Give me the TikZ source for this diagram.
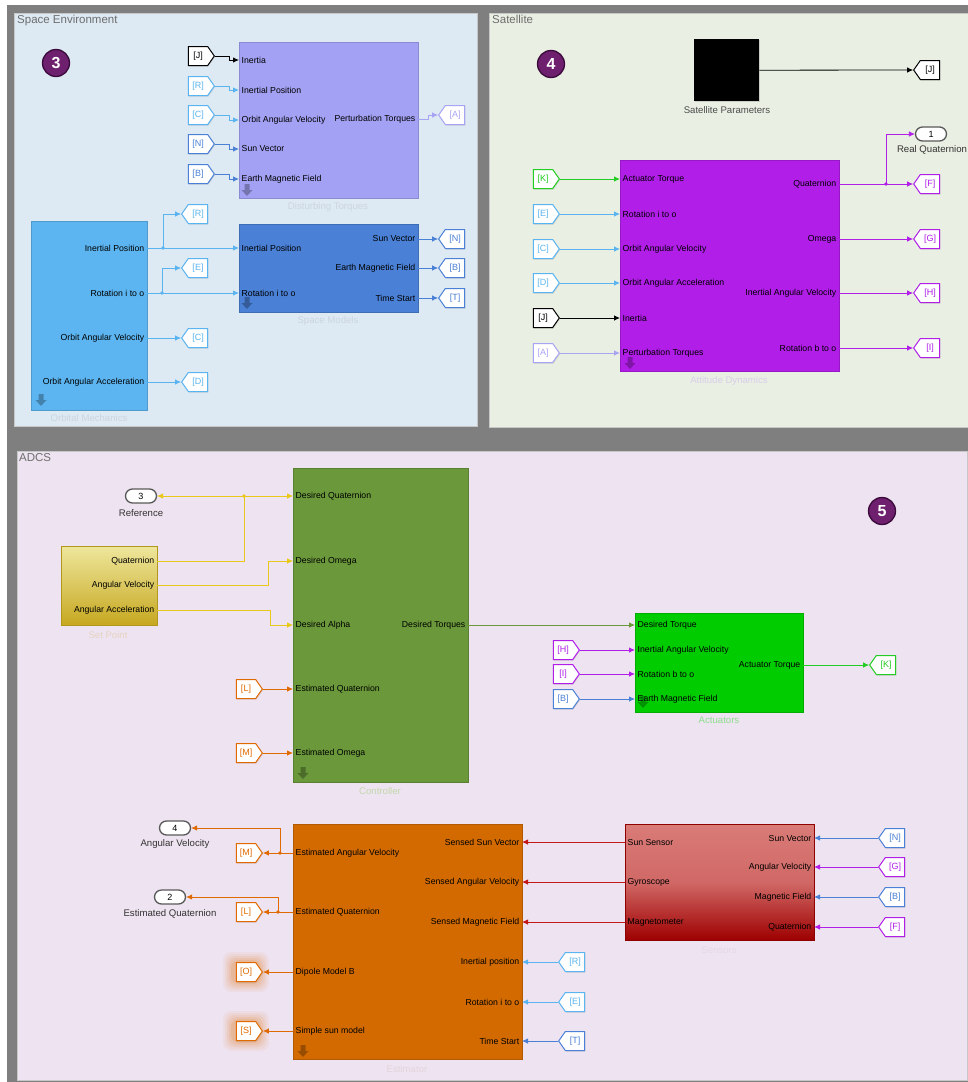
\documentclass[tikz,border=0pt]{standalone}
\usepackage{fontspec}
\setmainfont{Liberation Sans}
\usepackage{tikz}
\usetikzlibrary{positioning,calc}
\usetikzlibrary{arrows.meta,shapes,shadows}

\definecolor{frame}{HTML}{7F7F7F}
\definecolor{seBg}{HTML}{DDE9F3}
\definecolor{satBg}{HTML}{E9EFE2}
\definecolor{adcsBg}{HTML}{EEE3F0}
\definecolor{titleGray}{HTML}{6E6E6E}
\definecolor{badgeFill}{HTML}{6E1F6E}
\definecolor{badgeRim}{HTML}{3A0A3A}
% block fills
\definecolor{distFill}{HTML}{A3A1F3}
\definecolor{spmFill}{HTML}{4A80D5}
\definecolor{orbFill}{HTML}{5CB5F1}
\definecolor{attFill}{HTML}{B01EE8}
\definecolor{ctlFill}{HTML}{6A983A}
\definecolor{actFill}{HTML}{00CC00}
\definecolor{estFill}{HTML}{D26A00}
\definecolor{spTop}{HTML}{EEE69C}
\definecolor{spBot}{HTML}{C6A820}
\definecolor{senTop}{HTML}{D97B78}
\definecolor{senBot}{HTML}{9E0000}
% signal colours
\definecolor{sigLB}{HTML}{5AB4F0}
\definecolor{sigB}{HTML}{4A80D5}
\definecolor{sigLav}{HTML}{A8A4F4}
\definecolor{sigG}{HTML}{22CC22}
\definecolor{sigP}{HTML}{B01EE8}
\definecolor{sigY}{HTML}{E8C818}
\definecolor{sigOr}{HTML}{E06A00}
\definecolor{sigR}{HTML}{C41818}
\definecolor{sigOl}{HTML}{6A983A}
% faint block names
\definecolor{nameSE}{HTML}{CBD5E0}
\definecolor{nameAtt}{HTML}{D9CDEB}
\definecolor{nameSP}{HTML}{E6D3C0}
\definecolor{nameCtl}{HTML}{C2D8AC}
\definecolor{nameAct}{HTML}{8EDC8E}
\definecolor{nameEst}{HTML}{E2D4DC}
\definecolor{nameSen}{HTML}{E4D8E4}

\newcommand{\portfont}{\fontsize{8.7}{9}\selectfont}
\newcommand{\tagfont}{\fontsize{9}{10}\selectfont}
\newcommand{\namefont}{\fontsize{9.6}{11}\selectfont}
\newcommand{\titlefont}{\fontsize{11.5}{13}\selectfont}

\tikzstyle{panel} = [draw=black!22,line width=0.6pt]
\tikzstyle{ptitle} = [anchor=west,inner sep=0pt,text=titleGray,font=\titlefont]
\tikzstyle{subsys} = [rectangle,anchor=north west,inner sep=0pt,drop shadow={shadow xshift=1pt,shadow yshift=-1.2pt,opacity=0.3}]
\tikzstyle{inport} = [anchor=west,inner sep=2.5pt,font=\portfont]
\tikzstyle{outport} = [anchor=east,inner sep=2.5pt,font=\portfont]
\tikzstyle{blkname} = [font=\namefont,inner sep=0pt]
\tikzstyle{line} = [-{Latex[length=6pt,width=5.5pt]},line width=0.8pt]
\tikzstyle{dot} = [circle,inner sep=0pt,minimum size=3.8pt]
\tikzstyle{outblk} = [rounded rectangle,draw=black!65,line width=1.3pt,fill=white,minimum width=31pt,minimum height=14pt,inner sep=0pt,font=\tagfont]
\tikzstyle{badge} = [circle,fill=badgeFill,draw=badgeRim,line width=1.3pt,text=white,minimum size=27pt,inner sep=0pt,font=\fontsize{16}{16}\selectfont\bfseries]
\tikzset{
  sigtag/.style={signal,signal pointer angle=110,fill=white,line width=1pt,
    minimum width=26pt,minimum height=19pt,inner sep=1pt,font=\tagfont,
    draw=#1,text=#1,drop shadow={shadow xshift=0.8pt,shadow yshift=-1pt,opacity=0.25}},
  fromtag/.style={sigtag=#1,signal to=east},
  gototag/.style={sigtag=#1,signal to=west},
  lookunder/.pic={\fill[black,opacity=0.28] (-2.5,-6) -- (2.5,-6) -- (2.5,0) -- (5.5,0) -- (0,6) -- (-5.5,0) -- (-2.5,0) -- cycle;}
}

\begin{document}
\begin{tikzpicture}[x=1pt,y=-1pt]
\useasboundingbox (0,0) rectangle (968,1082);
% background and the three areas
\fill[frame] (7,5) rectangle (968,1082);
\filldraw[panel,fill=seBg] (14,13) rectangle (477,426);
\filldraw[panel,fill=satBg] (489,13) rectangle (990,427);
\filldraw[panel,fill=adcsBg] (17,451) rectangle (967,1080);
\node[ptitle] at (17,21) {Space Environment};
\node[ptitle] at (492,19) {Satellite};
\node[ptitle] at (19,458) {ADCS};
\node[badge] (b3) at (56,63) {3};
\node[badge] (b4) at (551,64) {4};
\node[badge] (b5) at (882,511) {5};

%% space environment
\node[subsys,fill=distFill,draw=distFill!85!black,minimum width=179pt,minimum height=156pt] (dist) at (239,42) {};
\node[blkname,text=nameSE] at (328,207) {Disturbing Torques};
\pic at (247,190) {lookunder};
\node[inport] (dist-J) at (239,60) {Inertia};
\node[inport] (dist-R) at (239,90) {Inertial Position};
\node[inport] (dist-C) at (239,120) {Orbit Angular Velocity};
\node[inport] (dist-N) at (239,149) {Sun Vector};
\node[inport] (dist-B) at (239,179) {Earth Magnetic Field};
\node[outport] (dist-A) at (418,119) {Perturbation Torques};

\node[fromtag=black] (se-J) at (198,56) {[J]};
\node[fromtag=sigLB] (se-R) at (198,86) {[R]};
\node[fromtag=sigLB] (se-C) at (198,115) {[C]};
\node[fromtag=sigB] (se-N) at (198,144) {[N]};
\node[fromtag=sigB] (se-B) at (198,174) {[B]};
\node[gototag=sigLav] (se-A) at (455,115) {[A]};
\draw[line] (se-J.east) -- ++(14,0) |- (dist-J.west);
\draw[line,sigLB] (se-R.east) -- ++(14,0) |- (dist-R.west);
\draw[line,sigLB] (se-C.east) -- ++(14,0) |- (dist-C.west);
\draw[line,sigB] (se-N.east) -- ++(14,0) |- (dist-N.west);
\draw[line,sigB] (se-B.east) -- ++(14,0) |- (dist-B.west);
\draw[line,sigLav] (dist-A.east) -- ++(10,0) |- (se-A.west);

\node[subsys,fill=orbFill,draw=orbFill!85!black,minimum width=116pt,minimum height=189pt] (orb) at (31,221) {};
\node[blkname,text=nameSE] at (89,418) {Orbital Mechanics};
\pic at (41,400) {lookunder};
\node[outport] (orb-pos) at (147,248) {Inertial Position};
\node[outport] (orb-rot) at (147,293) {Rotation i to o};
\node[outport] (orb-vel) at (147,338) {Orbit Angular Velocity};
\node[outport] (orb-acc) at (147,382) {Orbit Angular Acceleration};

\node[subsys,fill=spmFill,draw=spmFill!85!black,minimum width=179pt,minimum height=88pt] (spm) at (239,224) {};
\node[blkname,text=nameSE] at (328,321) {Space Models};
\pic at (247,303) {lookunder};
\node[inport] (spm-pos) at (239,248) {Inertial Position};
\node[inport] (spm-rot) at (239,293) {Rotation i to o};
\node[outport] (spm-sun) at (418,239) {Sun Vector};
\node[outport] (spm-mag) at (418,268) {Earth Magnetic Field};
\node[outport] (spm-time) at (418,298) {Time Start};

\node[gototag=sigLB] (se-R2) at (198,214) {[R]};
\node[gototag=sigLB] (se-E) at (198,268) {[E]};
\node[gototag=sigLB] (se-C2) at (198,338) {[C]};
\node[gototag=sigLB] (se-D) at (198,382) {[D]};
\node[gototag=sigB] (se-N2) at (455,239) {[N]};
\node[gototag=sigB] (se-B2) at (455,268) {[B]};
\node[gototag=sigB] (se-T) at (455,298) {[T]};
\coordinate (j-pos) at (163,248);
\coordinate (j-rot) at (162,293);
\draw[line,sigLB] (orb-pos.east) -- (spm-pos.west);
\draw[line,sigLB] (j-pos) |- (se-R2.west);
\draw[line,sigLB] (orb-rot.east) -- (spm-rot.west);
\draw[line,sigLB] (j-rot) |- (se-E.west);
\node[dot,fill=sigLB] at (j-pos) {};
\node[dot,fill=sigLB] at (j-rot) {};
\draw[line,sigLB] (orb-vel.east) -- (se-C2.west);
\draw[line,sigLB] (orb-acc.east) -- (se-D.west);
\draw[line,sigB] (spm-sun.east) -- (se-N2.west);
\draw[line,sigB] (spm-mag.east) -- (se-B2.west);
\draw[line,sigB] (spm-time.east) -- (se-T.west);

%% satellite
\node[subsys,fill=black,minimum width=65pt,minimum height=62pt] (satpar) at (694,39) {};
\pic at (703,92) {lookunder};
\node[blkname,text=black!70] at (727,110) {Satellite Parameters};
\node[gototag=black] (sat-J) at (930,70) {[J]};
\draw[line] (satpar.east) -- (sat-J.west);

\node[subsys,fill=attFill,draw=attFill!85!black,minimum width=219pt,minimum height=211pt] (att) at (620,160) {};
\node[blkname,text=nameAtt] at (729,381) {Attitude Dynamics};
\pic at (630,363) {lookunder};
\node[inport] (att-K) at (620,179) {Actuator Torque};
\node[inport] (att-E) at (620,214) {Rotation i to o};
\node[inport] (att-C) at (620,249) {Orbit Angular Velocity};
\node[inport] (att-D) at (620,283) {Orbit Angular Acceleration};
\node[inport] (att-J) at (620,318) {Inertia};
\node[inport] (att-A) at (620,353) {Perturbation Torques};
\node[outport] (att-q) at (839,184) {Quaternion};
\node[outport] (att-w) at (839,239) {Omega};
\node[outport] (att-iw) at (839,293) {Inertial Angular Velocity};
\node[outport] (att-rb) at (839,348) {Rotation b to o};

\node[fromtag=sigG] (sat-K) at (543,179) {[K]};
\node[fromtag=sigLB] (sat-E) at (543,214) {[E]};
\node[fromtag=sigLB] (sat-C) at (543,249) {[C]};
\node[fromtag=sigLB] (sat-D) at (543,283) {[D]};
\node[fromtag=black] (sat-J2) at (543,318) {[J]};
\node[fromtag=sigLav] (sat-A) at (543,353) {[A]};
\draw[line,sigG] (sat-K.east) -- (att-K.west);
\draw[line,sigLB] (sat-E.east) -- (att-E.west);
\draw[line,sigLB] (sat-C.east) -- (att-C.west);
\draw[line,sigLB] (sat-D.east) -- (att-D.west);
\draw[line] (sat-J2.east) -- (att-J.west);
\draw[line,sigLav] (sat-A.east) -- (att-A.west);

\node[gototag=sigP] (sat-F) at (930,184) {[F]};
\node[gototag=sigP] (sat-G) at (930,239) {[G]};
\node[gototag=sigP] (sat-H) at (930,293) {[H]};
\node[gototag=sigP] (sat-I) at (930,348) {[I]};
\node[outblk] (out1) at (931,134) {1};
\node[blkname,text=black!80] at (932,150) {Real Quaternion};
\coordinate (j-q) at (886,184);
\draw[line,sigP] (att-q.east) -- (sat-F.west);
\draw[line,sigP] (j-q) |- (out1.west);
\node[dot,fill=sigP] at (j-q) {};
\draw[line,sigP] (att-w.east) -- (sat-G.west);
\draw[line,sigP] (att-iw.east) -- (sat-H.west);
\draw[line,sigP] (att-rb.east) -- (sat-I.west);

%% ADCS
\node[outblk] (out3) at (141,496) {3};
\node[blkname,text=black!80] at (141,513) {Reference};

\node[subsys,top color=spTop,bottom color=spBot,draw=spBot!90!black,minimum width=96pt,minimum height=79pt] (setpt) at (61,546) {};
\node[blkname,text=nameSP] at (108,635) {Set Point};
\node[outport] (sp-q) at (157,561) {Quaternion};
\node[outport] (sp-w) at (157,585) {Angular Velocity};
\node[outport] (sp-a) at (157,610) {Angular Acceleration};

\node[subsys,fill=ctlFill,draw=ctlFill!85!black,minimum width=175pt,minimum height=314pt] (ctl) at (293,468) {};
\node[blkname,text=nameCtl] at (380,791) {Controller};
\pic at (303,773) {lookunder};
\node[inport] (ctl-q) at (293,496) {Desired Quaternion};
\node[inport] (ctl-w) at (293,561) {Desired Omega};
\node[inport] (ctl-a) at (293,625) {Desired Alpha};
\node[inport] (ctl-L) at (293,689) {Estimated Quaternion};
\node[inport] (ctl-M) at (293,753) {Estimated Omega};
\node[outport] (ctl-tau) at (468,625) {Desired Torques};

\coordinate (j-ref) at (244,496);
\draw[line,sigY] (sp-q.east) -| (j-ref) -- (ctl-q.west);
\draw[line,sigY] (j-ref) -- (out3.east);
\node[dot,fill=sigY] at (j-ref) {};
\draw[line,sigY] (sp-w.east) -- ++(111,0) |- (ctl-w.west);
\draw[line,sigY] (sp-a.east) -- ++(113,0) |- (ctl-a.west);
\node[fromtag=sigOr] (ad-L) at (246,689) {[L]};
\node[fromtag=sigOr] (ad-M) at (246,753) {[M]};
\draw[line,sigOr] (ad-L.east) -- (ctl-L.west);
\draw[line,sigOr] (ad-M.east) -- (ctl-M.west);

\node[subsys,fill=actFill,draw=actFill!85!black,minimum width=168pt,minimum height=99pt] (act) at (635,613) {};
\node[blkname,text=nameAct] at (719,720) {Actuators};
\pic at (643,702) {lookunder};
\node[inport] (act-tau) at (635,625) {Desired Torque};
\node[inport] (act-H) at (635,650) {Inertial Angular Velocity};
\node[inport] (act-I) at (635,674) {Rotation b to o};
\node[inport] (act-B) at (635,699) {Earth Magnetic Field};
\node[outport] (act-K) at (803,665) {Actuator Torque};
\node[fromtag=sigP] (ad-H) at (563,650) {[H]};
\node[fromtag=sigP] (ad-I) at (563,674) {[I]};
\node[fromtag=sigB] (ad-B) at (563,699) {[B]};
\node[gototag=sigG] (ad-K) at (886,665) {[K]};
\draw[line,sigOl] (ctl-tau.east) -- (act-tau.west);
\draw[line,sigP] (ad-H.east) -- (act-H.west);
\draw[line,sigP] (ad-I.east) -- (act-I.west);
\draw[line,sigB] (ad-B.east) -- (act-B.west);
\draw[line,sigG] (act-K.east) -- (ad-K.west);

\node[subsys,fill=estFill,draw=estFill!85!black,minimum width=229pt,minimum height=235pt] (est) at (293,824) {};
\node[blkname,text=nameEst] at (407,1069) {Estimator};
\pic at (303,1051) {lookunder};
\node[inport] (est-w) at (293,853) {Estimated Angular Velocity};
\node[inport] (est-q) at (293,912) {Estimated Quaternion};
\node[inport] (est-O) at (293,972) {Dipole Model B};
\node[inport] (est-S) at (293,1031) {Simple sun model};
\node[outport] (est-sun) at (522,842) {Sensed Sun Vector};
\node[outport] (est-gyr) at (522,882) {Sensed Angular Velocity};
\node[outport] (est-mag) at (522,922) {Sensed Magnetic Field};
\node[outport] (est-R) at (522,962) {Inertial position};
\node[outport] (est-E) at (522,1002) {Rotation i to o};
\node[outport] (est-T) at (522,1041) {Time Start};

% glow round the two unused tags
\foreach \r/\o in {10/0.05,8/0.06,6/0.08,4/0.1,2/0.12}{
  \fill[sigOr,opacity=\o,rounded corners=8pt] ($(246,972)+(-13-\r,-10-\r)$) rectangle ($(246,972)+(13+\r,10+\r)$);
  \fill[sigOr,opacity=\o,rounded corners=8pt] ($(246,1031)+(-13-\r,-10-\r)$) rectangle ($(246,1031)+(13+\r,10+\r)$);
}
\node[fromtag=sigOr] (ad-M2) at (246,853) {[M]};
\node[fromtag=sigOr] (ad-L2) at (246,912) {[L]};
\node[fromtag=sigOr] (ad-O) at (246,972) {[O]};
\node[fromtag=sigOr] (ad-S) at (246,1031) {[S]};
\node[outblk] (out4) at (175,828) {4};
\node[blkname,text=black!80] at (175,844) {Angular Velocity};
\node[outblk] (out2) at (170,897) {2};
\node[blkname,text=black!80] at (170,914) {Estimated Quaternion};
\coordinate (j-w) at (280,853);
\coordinate (j-q2) at (278,912);
\draw[line,sigOr] (est-w.west) -- (ad-M2.east);
\draw[line,sigOr] (j-w) |- (out4.east);
\node[dot,fill=sigOr] at (j-w) {};
\draw[line,sigOr] (est-q.west) -- (ad-L2.east);
\draw[line,sigOr] (j-q2) |- (out2.east);
\node[dot,fill=sigOr] at (j-q2) {};
\draw[line,sigOr] (est-O.west) -- (ad-O.east);
\draw[line,sigOr] (est-S.west) -- (ad-S.east);

\node[gototag=sigLB] (ad-R) at (575,962) {[R]};
\node[gototag=sigLB] (ad-E) at (575,1002) {[E]};
\node[gototag=sigB] (ad-T) at (575,1041) {[T]};
\draw[line,sigLB] (ad-R.west) -- (est-R.east);
\draw[line,sigLB] (ad-E.west) -- (est-E.east);
\draw[line,sigB] (ad-T.west) -- (est-T.east);

\node[subsys,top color=senTop,bottom color=senBot,middle color=senTop!85!senBot,draw=senBot!90!black,minimum width=189pt,minimum height=116pt] (sen) at (625,824) {};
\node[blkname,text=nameSen] at (719,950) {Sensors};
\node[inport] (sen-sun) at (625,842) {Sun Sensor};
\node[inport] (sen-gyr) at (625,882) {Gyroscope};
\node[inport] (sen-mag) at (625,922) {Magnetometer};
\node[outport] (sen-N) at (814,838) {Sun Vector};
\node[outport] (sen-G) at (814,867) {Angular Velocity};
\node[outport] (sen-B) at (814,897) {Magnetic Field};
\node[outport] (sen-F) at (814,927) {Quaternion};
\draw[line,sigR] (sen-sun.west) -- (est-sun.east);
\draw[line,sigR] (sen-gyr.west) -- (est-gyr.east);
\draw[line,sigR] (sen-mag.west) -- (est-mag.east);

\node[gototag=sigB] (ad-N) at (895,838) {[N]};
\node[gototag=sigP] (ad-G) at (895,867) {[G]};
\node[gototag=sigB] (ad-B2) at (895,897) {[B]};
\node[gototag=sigP] (ad-F) at (895,927) {[F]};
\draw[line,sigB] (ad-N.west) -- (sen-N.east);
\draw[line,sigP] (ad-G.west) -- (sen-G.east);
\draw[line,sigB] (ad-B2.west) -- (sen-B.east);
\draw[line,sigP] (ad-F.west) -- (sen-F.east);
\end{tikzpicture}
\end{document}
